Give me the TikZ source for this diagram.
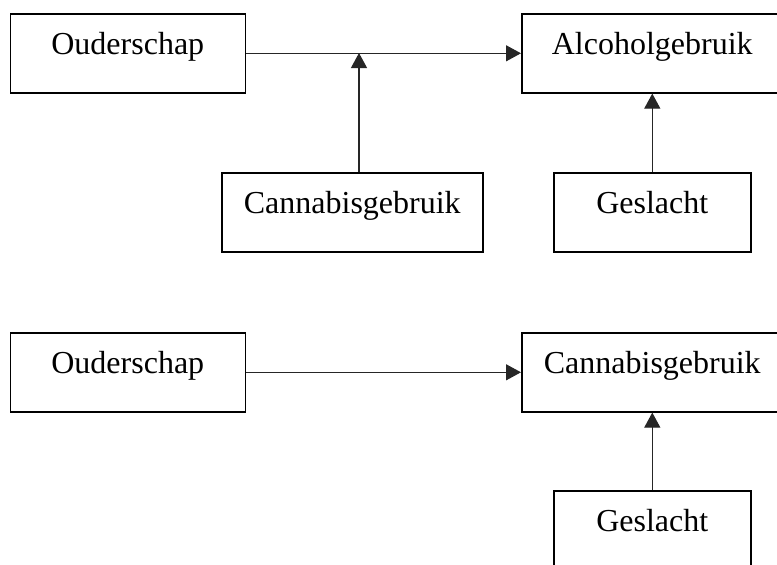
\documentclass[tikz,border=0pt]{standalone}
\usepackage{fontspec}
\setmainfont{Liberation Serif}
\usetikzlibrary{arrows.meta}
\tikzset{
	varbox/.style={draw, line width=1.6pt, inner sep=0pt, anchor=north west,
		text height=41pt, text depth=38pt, font=\fontsize{32}{38}\selectfont},
	pijl/.style={-{Triangle[length=15pt,width=16pt]}, line width=1.2pt, black!85}
}
\begin{document}
\begin{tikzpicture}[x=1pt,y=-1pt]
	\useasboundingbox (0,0) rectangle (777,565);
	% model alcoholgebruik
	\node[varbox, minimum width=235pt] (oud1) at (9.5,13) {Ouderschap};
	\node[varbox, minimum width=261pt] (alc) at (521,13) {Alcoholgebruik};
	\node[varbox, minimum width=261pt] (can1) at (221,172) {Cannabisgebruik};
	\node[varbox, minimum width=197pt] (ges1) at (553,172) {Geslacht};
	\coordinate (mod1) at (359,53);
	\draw[pijl] (oud1.east) -- (alc.west);
	\draw[pijl] (can1.north -| mod1) -- (mod1);
	\draw[pijl] (ges1.north) -- (alc.south);
	% model cannabisgebruik
	\node[varbox, minimum width=235pt] (oud2) at (9.5,332) {Ouderschap};
	\node[varbox, minimum width=261pt] (can2) at (521,332) {Cannabisgebruik};
	\node[varbox, minimum width=197pt] (ges2) at (553,490) {Geslacht};
	\draw[pijl] (oud2.east) -- (can2.west);
	\draw[pijl] (ges2.north) -- (can2.south);
\end{tikzpicture}
\end{document}
